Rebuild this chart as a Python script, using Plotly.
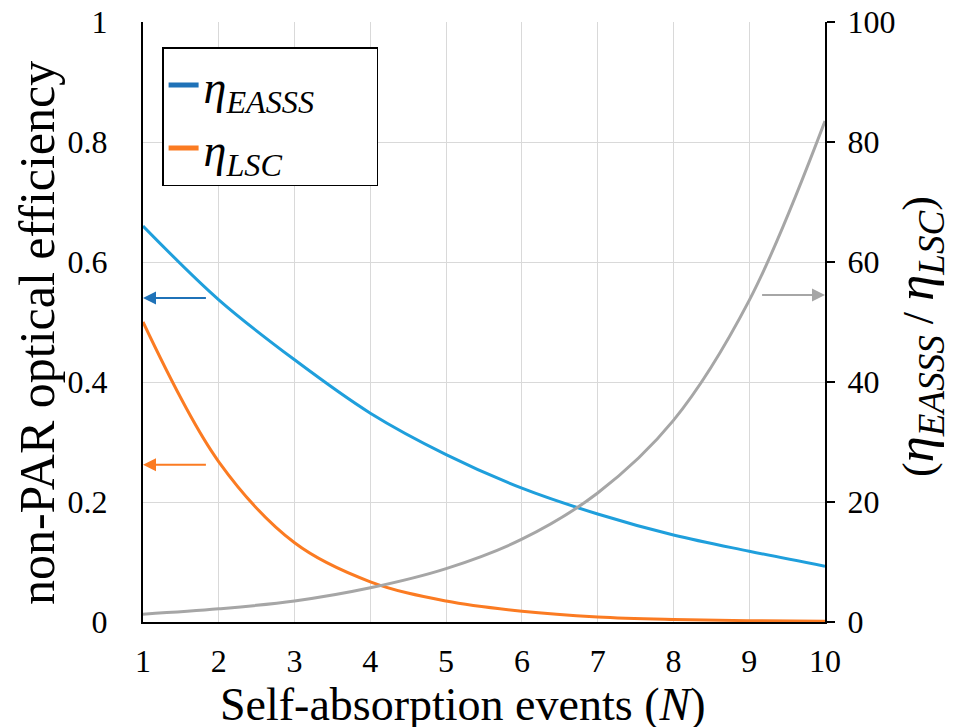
import plotly.graph_objects as go

N = [1, 2, 3, 4, 5, 6, 7, 8, 9, 10]
eta_easss = [0.66, 0.537, 0.437, 0.348, 0.279, 0.223, 0.180, 0.145, 0.118, 0.093]
eta_lsc = [0.50, 0.267, 0.132, 0.067, 0.035, 0.018, 0.0085, 0.0043, 0.0022, 0.0011]
ratio = [1.3, 2.2, 3.5, 5.7, 8.9, 13.8, 21.5, 33.6, 53.6, 83.5]

x_ticks = [1, 2, 3, 4, 5, 6, 7, 8, 9, 10]
y_ticks = [0, 0.2, 0.4, 0.6, 0.8, 1]
y_tick_text = ["0", "0.2", "0.4", "0.6", "0.8", "1"]
y2_ticks = [0, 20, 40, 60, 80, 100]

BLUE = "#1f9fdc"
DARKBLUE = "#1f72b8"
ORANGE = "#fb7b22"
GRAY = "#a6a6a6"
SERIF = "Times New Roman, Liberation Serif, Tinos, serif"
PAD = "\u00a0" * 5

fig = go.Figure()
fig.add_trace(go.Scatter(x=N, y=eta_easss, mode="lines", line=dict(color=BLUE, width=3, shape="spline"),
                         showlegend=False))
fig.add_trace(go.Scatter(x=N, y=eta_lsc, mode="lines", line=dict(color=ORANGE, width=3, shape="spline"),
                         showlegend=False))
fig.add_trace(go.Scatter(x=N, y=ratio, mode="lines", line=dict(color=GRAY, width=3, shape="spline"),
                         yaxis="y2", showlegend=False))
# legend entries
fig.add_trace(go.Scatter(x=[None], y=[None], mode="lines", line=dict(color=DARKBLUE, width=5),
                         name="<i>η<sub>EASSS</sub></i>" + PAD))
fig.add_trace(go.Scatter(x=[None], y=[None], mode="lines", line=dict(color=ORANGE, width=5),
                         name="<i>η<sub>LSC</sub></i>"))

# arrows
fig.add_annotation(x=1, y=0.54, ax=1.85, ay=0.54, xref="x", yref="y", axref="x", ayref="y",
                   showarrow=True, arrowhead=2, arrowsize=1.3, arrowwidth=2, arrowcolor=DARKBLUE, text="")
fig.add_annotation(x=1, y=0.262, ax=1.85, ay=0.262, xref="x", yref="y", axref="x", ayref="y",
                   showarrow=True, arrowhead=2, arrowsize=1.3, arrowwidth=2, arrowcolor=ORANGE, text="")
fig.add_annotation(x=10, y=54.5, ax=9.15, ay=54.5, xref="x", yref="y2", axref="x", ayref="y2",
                   showarrow=True, arrowhead=2, arrowsize=1.3, arrowwidth=2, arrowcolor=GRAY, text="")

# axis titles
fig.add_annotation(text="non-PAR optical efficiency", xref="paper", yref="paper", x=-0.155, y=0.482,
                   xanchor="center", yanchor="middle", textangle=-90, showarrow=False,
                   font=dict(size=50, family=SERIF))
fig.add_annotation(text="<span style='font-size:44px'>(</span><i>η<sub>EASSS</sub></i>"
                        "<span style='font-size:44px'> / </span><i>η<sub>LSC</sub></i>"
                        "<span style='font-size:44px'>)</span>",
                   xref="paper", yref="paper",
                   x=1.138, y=0.475, xanchor="center", yanchor="middle", textangle=-90, showarrow=False,
                   font=dict(size=53, family=SERIF))
fig.add_annotation(text="Self-absorption events (<i>N</i>)", xref="paper", yref="paper", x=0.469, y=-0.138,
                   xanchor="center", yanchor="middle", showarrow=False, font=dict(size=46, family=SERIF))

fig.update_layout(
    width=960, height=727,
    margin=dict(l=143, r=135, t=22, b=105),
    paper_bgcolor="white", plot_bgcolor="white",
    font=dict(family=SERIF, color="black", size=32),
    xaxis=dict(range=[1, 10], tickvals=x_ticks, showgrid=True, gridcolor="#d9d9d9", gridwidth=1,
               showline=True, linecolor="black", linewidth=2, ticks="", zeroline=False, automargin=False,
               ticklabelstandoff=10, tickfont=dict(size=32, family=SERIF)),
    yaxis=dict(range=[0, 1], tickvals=y_ticks, ticktext=y_tick_text, showgrid=True, gridcolor="#d9d9d9",
               showline=True, linecolor="black", linewidth=2, ticks="", zeroline=False, automargin=False,
               ticklabelstandoff=27, tickfont=dict(size=32, family=SERIF)),
    yaxis2=dict(range=[0, 100], tickvals=y2_ticks, overlaying="y", side="right", showgrid=False,
                showline=True, linecolor="black", linewidth=2, ticks="outside", ticklen=8, tickcolor="black",
                tickwidth=2, zeroline=False, automargin=False, tickfont=dict(size=32, family=SERIF),
                ticklabelstandoff=6),
    legend=dict(x=0.028, y=0.958, xanchor="left", yanchor="top", bordercolor="black", borderwidth=1.5,
                bgcolor="white", font=dict(size=46, family=SERIF), tracegroupgap=0, itemwidth=30),
)

fig.write_html("out.html", config={"displayModeBar": False},
               post_script="document.body.style.margin='0px';")
